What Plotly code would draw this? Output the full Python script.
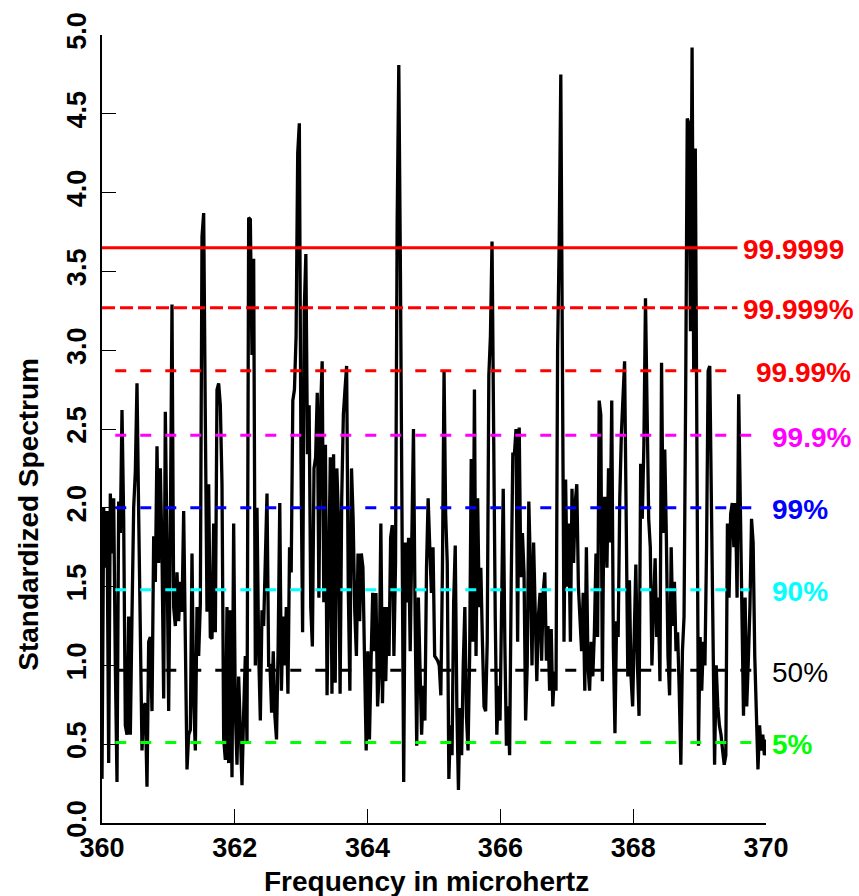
import numpy as np
import plotly.graph_objects as go

# ---------------- data ----------------
# frequency segments (microhertz) covered by each block of spectrum values
seg_start = [360.0, 362.53, 365.055, 367.58]
seg_end = [362.51, 365.01, 367.56, 370.0]

spec_a = [0.28, 2.00, 1.62, 1.98, 0.38, 2.09, 1.71, 2.06, 1.00, 0.26,
          2.04, 1.84, 2.62, 1.93, 0.62, 0.56, 1.31, 0.56, 1.32, 2.00,
          2.23, 2.79, 1.96, 1.15, 0.46, 0.74, 0.76, 0.23, 1.15, 1.18,
          0.71, 1.82, 1.53, 2.39, 1.65, 2.25, 1.71, 0.79, 2.61, 1.75,
          0.71, 1.87, 3.29, 1.37, 1.25, 1.59, 1.28, 1.53, 1.34, 1.98,
          1.00, 0.34, 0.56, 0.59, 1.71, 0.78, 0.46, 1.37, 1.06, 1.39,
          3.72, 3.87, 2.56, 1.34, 2.15, 1.18, 1.17, 1.90, 1.21, 2.75,
          2.79, 2.65, 2.15, 0.54, 0.40, 1.37, 0.38, 1.35, 0.29, 1.90,
          0.71, 0.37, 0.93, 0.60, 0.24, 0.70, 1.06, 0.51, 3.84, 3.83,
          2.97, 3.58, 1.00, 2.00, 1.09, 0.65, 1.35, 1.25, 1.65, 2.09,
          1.00]

spec_b = [1.00, 0.70, 1.09, 0.68, 0.53, 1.12, 2.03, 0.84, 1.31, 1.00,
          1.37, 0.82, 1.75, 1.59, 2.68, 2.75, 3.09, 4.25, 4.44, 2.31,
          1.21, 3.25, 3.61, 2.34, 2.65, 1.37, 1.12, 2.25, 2.32, 2.73,
          1.43, 2.61, 2.93, 1.40, 2.40, 0.81, 1.81, 2.32, 0.82, 2.34,
          0.89, 2.25, 1.93, 0.82, 2.06, 2.59, 2.75, 2.90, 1.50, 0.84,
          2.25, 1.93, 1.34, 1.06, 1.71, 1.28, 1.71, 1.62, 1.03, 0.46,
          1.09, 0.53, 1.03, 1.46, 1.09, 1.46, 0.74, 0.96, 1.90, 0.76,
          1.37, 0.90, 1.37, 1.06, 1.81, 1.89, 1.06, 1.65, 3.81, 4.81,
          3.50, 1.46, 0.26, 1.78, 1.40, 1.81, 1.09, 1.81, 2.50, 1.31,
          0.49, 1.43, 1.00, 0.56, 0.87, 0.65, 1.62, 2.06, 1.75, 1.46,
          1.75, 1.06]

spec_c = [1.03, 1.00, 0.81, 1.62, 2.87, 1.96, 1.65, 0.28, 0.62, 0.43,
          1.40, 1.76, 0.74, 0.21, 0.73, 0.43, 1.00, 1.37, 0.68, 0.46,
          1.06, 2.31, 1.15, 2.75, 1.06, 2.06, 1.37, 1.62, 1.15, 0.74,
          0.71, 1.15, 2.84, 3.09, 3.69, 2.34, 1.31, 0.56, 0.87, 0.65,
          1.40, 2.12, 1.15, 0.49, 0.74, 0.43, 1.53, 2.34, 2.34, 2.50,
          1.15, 2.51, 1.56, 1.84, 1.59, 0.65, 1.00, 2.04, 1.62, 1.00,
          1.78, 1.37, 0.90, 1.31, 1.46, 1.03, 1.46, 1.59, 1.03, 1.25,
          0.84, 1.23, 0.74, 0.96, 0.84, 3.00, 3.69, 4.75, 3.03, 1.15,
          2.18, 1.50, 1.90, 1.15, 2.12, 1.65, 2.03, 2.15, 1.50, 1.31,
          1.09, 1.46, 0.84, 1.75, 1.00, 0.84, 1.15, 0.93, 1.21, 1.71,
          1.18, 2.68, 2.59, 0.90, 2.06]

spec_d = [2.06, 1.62, 2.25, 1.78, 2.68, 1.12, 0.57, 1.28, 1.18, 2.06,
          2.47, 2.72, 2.93, 1.93, 0.93, 1.54, 0.93, 0.74, 1.12, 1.64,
          1.00, 0.68, 2.28, 1.93, 2.40, 3.33, 2.62, 1.93, 1.75, 1.00,
          1.37, 1.68, 1.18, 1.43, 0.90, 2.92, 1.84, 2.37, 1.81, 1.06,
          0.81, 1.75, 1.25, 1.53, 1.09, 1.21, 0.84, 0.37, 1.09, 1.31,
          2.72, 4.47, 4.44, 3.12, 4.92, 2.87, 4.28, 2.22, 0.49, 1.18,
          0.84, 1.15, 1.00, 1.75, 2.87, 2.90, 2.12, 1.25, 0.37, 1.00,
          0.74, 0.62, 0.56, 0.46, 0.37, 0.43, 1.90, 1.43, 1.96, 2.03,
          1.75, 2.03, 1.43, 2.72, 1.93, 1.12, 0.68, 1.43, 0.74, 1.03,
          1.37, 1.93, 1.78, 1.06, 0.62, 0.34, 0.62, 0.46, 0.56, 0.43,
          0.53]

# significance levels
level_values = [3.65, 3.27, 2.87, 2.46, 2.00, 1.48, 0.97, 0.51]
level_labels = ["99.9999", "99.999%", "99.99%", "99.9%", "99%", "90%", "50%", "5%"]

x_ticks = [360, 362, 364, 366, 368, 370]
y_ticks = [0.0, 0.5, 1.0, 1.5, 2.0, 2.5, 3.0, 3.5, 4.0, 4.5, 5.0]

# ---------------- styles ----------------
level_colors = ["#FF0000", "#FF0000", "#FF0000", "#FF00FF", "#0000FF", "#00FFFF", "#000000", "#00FF00"]
level_dash = ["solid", "13px,5px", "11px,14px", "11px,14px", "11px,14px", "11px,14px", "11px,14px", "11px,14px"]
line_x0 = [360.0, 360.0, 360.2, 360.2, 360.2, 360.2, 360.2, 360.2]
line_x1 = [369.57, 369.57, 369.42, 369.80, 369.80, 369.75, 369.83, 369.83]
label_xpaper = [0.963, 0.963, 0.982, 1.006, 1.006, 1.006, 1.006, 1.006]
label_weight = ["bold", "bold", "bold", "bold", "bold", "bold", "normal", "bold"]

FONT = "Liberation Sans, Arial, Helvetica, sans-serif"

segments = [spec_a, spec_b, spec_c, spec_d]
freq = np.concatenate([np.linspace(s, e, len(v)) for s, e, v in zip(seg_start, seg_end, segments)])
spec = np.concatenate([np.array(v) for v in segments])

fig = go.Figure()
fig.add_trace(go.Scatter(x=freq, y=spec, mode="lines",
                         line=dict(color="black", width=3.3), hoverinfo="skip"))

for val, lab, col, dash, x0, x1, lx, w in zip(level_values, level_labels, level_colors,
                                             level_dash, line_x0, line_x1, label_xpaper, label_weight):
    fig.add_trace(go.Scatter(x=[x0, x1], y=[val, val], mode="lines",
                             line=dict(color=col, width=3, dash=dash), hoverinfo="skip"))
    fig.add_annotation(x=lx, y=val, xref="paper", yref="y", text=lab, showarrow=False,
                       xanchor="left", yanchor="middle", yshift=-2,
                       font=dict(family=FONT, size=28, color=col, weight=w))

axis_common = dict(showline=True, linewidth=2, linecolor="black", ticks="inside",
                   ticklen=14, tickwidth=1, tickcolor="black", showgrid=False,
                   zeroline=False, tickfont=dict(family=FONT, size=27, color="black", weight="bold"))

fig.update_xaxes(range=[360, 370], tickvals=x_ticks, ticktext=[str(t) for t in x_ticks],
                 **axis_common)
fig.update_yaxes(range=[0, 5], tickvals=y_ticks, ticktext=["%.1f" % t for t in y_ticks],
                 tickangle=-90, ticklabelstandoff=3, **axis_common)

fig.add_annotation(x=0.489, y=-0.074, xref="paper", yref="paper", text="Frequency in microhertz",
                   showarrow=False, xanchor="center", yanchor="middle",
                   font=dict(family=FONT, size=28, color="black", weight="bold"))
fig.add_annotation(x=-0.112, y=0.392, xref="paper", yref="paper", text="Standardized Spectrum",
                   showarrow=False, textangle=-90, xanchor="center", yanchor="middle",
                   font=dict(family=FONT, size=28, color="black", weight="bold"))

fig.update_layout(width=859, height=896, showlegend=False,
                  margin=dict(l=102, r=93, t=32, b=73),
                  plot_bgcolor="white", paper_bgcolor="white")

fig.write_html("out.html")
